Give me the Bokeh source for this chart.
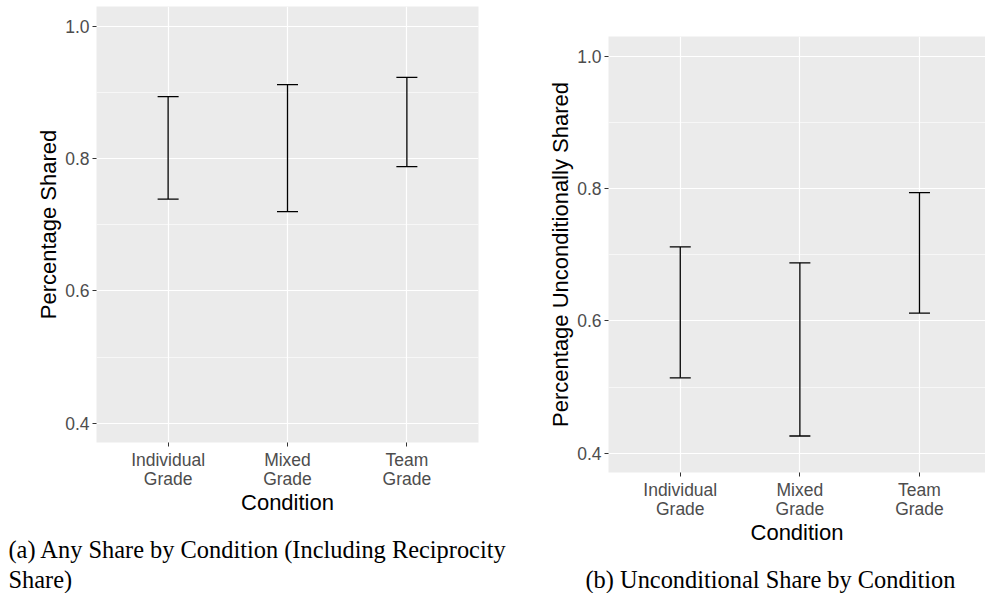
from bokeh.plotting import figure
from bokeh.models import Range1d, FixedTicker, Whisker, TeeHead, ColumnDataSource, Title
from bokeh.layouts import row
from bokeh.embed import file_html
from bokeh.resources import INLINE

# ---- data ----
conditions = ["Individual Grade", "Mixed Grade", "Team Grade"]
condition_tick_labels = ["Individual\nGrade", "Mixed\nGrade", "Team\nGrade"]

any_share_lower = [0.739, 0.720, 0.788]
any_share_upper = [0.894, 0.912, 0.923]

uncond_share_lower = [0.514, 0.426, 0.612]
uncond_share_upper = [0.712, 0.688, 0.794]

y_ticks = [0.4, 0.6, 0.8, 1.0]
y_minor_ticks = [0.5, 0.7, 0.9]
y_tick_labels = ["0.4", "0.6", "0.8", "1.0"]

caption_a = "(a) Any Share by Condition (Including Reciprocity\nShare)"
caption_b = "(b) Unconditional Share by Condition"

PANEL_BG = "#EBEBEB"
TICK_TXT = "#4D4D4D"
SANS = "Liberation Sans"
SERIF = "Liberation Serif"


def make_panel(lower, upper, ylabel, width, height, x_end, y_start, y_end,
               b_left, b_right, b_top, b_bottom):
    xs = list(range(1, len(conditions) + 1))
    p = figure(width=width, height=height, output_backend="svg", toolbar_location=None,
               x_range=Range1d(0.4, x_end), y_range=Range1d(y_start, y_end),
               min_border_left=b_left, min_border_right=b_right,
               min_border_top=b_top, min_border_bottom=b_bottom)
    if "frame_align" in p.properties():
        p.frame_align = False
    p.background_fill_color = PANEL_BG
    p.border_fill_color = "white"
    p.outline_line_color = None

    src = ColumnDataSource(dict(x=xs, lower=lower, upper=upper))
    w = Whisker(source=src, base="x", lower="lower", upper="upper",
                line_color="black", line_width=1.3,
                upper_head=TeeHead(size=21, line_color="black", line_width=1.3),
                lower_head=TeeHead(size=21, line_color="black", line_width=1.3))
    p.add_layout(w)

    # axes
    p.xaxis.ticker = FixedTicker(ticks=xs)
    p.xaxis.major_label_overrides = {x: lab for x, lab in zip(xs, condition_tick_labels)}
    p.yaxis.ticker = FixedTicker(ticks=y_ticks, minor_ticks=y_minor_ticks)
    p.yaxis.major_label_overrides = {t: lab for t, lab in zip(y_ticks, y_tick_labels)}

    for ax in (p.xaxis[0], p.yaxis[0]):
        ax.axis_line_color = None
        ax.major_tick_line_color = "#333333"
        ax.major_tick_in = 0
        ax.major_tick_out = 4
        ax.minor_tick_line_color = None
        ax.major_label_text_color = TICK_TXT
        ax.major_label_text_font = SANS
        ax.major_label_text_font_size = "17.5px"
        ax.axis_label_text_font = SANS
        ax.axis_label_text_font_size = "22px"
        ax.axis_label_text_font_style = "normal"
        ax.axis_label_text_color = "black"
    p.xaxis.major_label_standoff = 3
    p.xaxis.major_label_text_line_height = 0.95
    p.xaxis.axis_label = "Condition"
    p.xaxis.axis_label_standoff = -2
    p.yaxis.major_label_standoff = 3
    p.yaxis.axis_label = ylabel
    p.yaxis.axis_label_standoff = 1

    # grid
    p.xgrid.grid_line_color = "white"
    p.xgrid.grid_line_width = 1.2
    p.ygrid.grid_line_color = "white"
    p.ygrid.grid_line_width = 1.2
    p.ygrid.minor_grid_line_color = "white"
    p.ygrid.minor_grid_line_width = 0.6
    return p


def add_caption(p, text, offset, gap_px):
    # blank spacer between the axis and the caption
    p.add_layout(Title(text=" ", text_font_size=f"{gap_px}px", standoff=0), "below")
    p.add_layout(Title(text=text, align="left", offset=offset, standoff=0,
                       text_font=SERIF, text_font_size="24.4px", text_font_style="normal",
                       text_color="black", text_line_height=1.13), "below")


p1 = make_panel(any_share_lower, any_share_upper, "Percentage Shared",
                width=514, height=593, x_end=3.6, y_start=0.3708, y_end=1.0302,
                b_left=96, b_right=36, b_top=6, b_bottom=151)
p2 = make_panel(uncond_share_lower, uncond_share_upper, "Percentage Unconditionally Shared",
                width=471, height=593, x_end=3.552, y_start=0.3708, y_end=1.0303,
                b_left=94, b_right=0, b_top=36, b_bottom=121)

add_caption(p1, caption_a, -88, 12)
add_caption(p2, caption_b, -23, 12)

layout = row(p1, p2)
open("out.html", "w").write(file_html(layout, INLINE))
